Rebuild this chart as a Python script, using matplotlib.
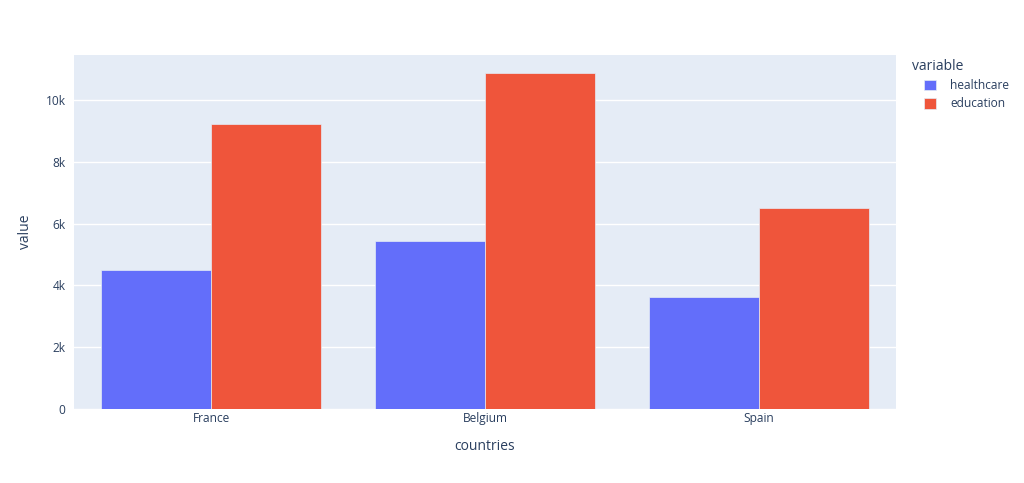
import matplotlib
matplotlib.use("Agg")
import matplotlib.pyplot as plt
import numpy as np
from matplotlib.ticker import FuncFormatter

countries = ["France", "Belgium", "Spain"]
healthcare = [4500, 5440, 3620]
education = [9220, 10870, 6500]
series_names = ["healthcare", "education"]
colors = ["#636efa", "#EF553B"]

plt.rcParams['font.family'] = ['Open Sans', 'DejaVu Sans']
txt = "#2a3f5f"

fig = plt.figure(figsize=(10.24, 4.83), dpi=100)
ax = fig.add_axes([74/1024, 1-409/483, (896-74)/1024, (409-55)/483])
ax.set_facecolor("#E5ECF6")

x = np.arange(len(countries))
w = 0.4
bars = []
for i, (vals, c, n) in enumerate(zip([healthcare, education], colors, series_names)):
    b = ax.bar(x - w/2 + i*w, vals, width=w, color=c, edgecolor="#E5ECF6", linewidth=0.5, label=n, zorder=3)
    bars.append(b)

ax.set_xlim(-0.5, 2.5)
ax.set_ylim(0, 11460)
ax.set_yticks([0, 2000, 4000, 6000, 8000, 10000])
ax.yaxis.set_major_formatter(FuncFormatter(lambda v, p: "0" if v == 0 else f"{int(v/1000)}k"))
ax.set_xticks(x)
ax.set_xticklabels(countries)
ax.grid(axis="y", color="white", linewidth=1, zorder=0)
for s in ax.spines.values():
    s.set_visible(False)
ax.tick_params(axis="both", length=0, labelsize=8.6, colors=txt)
ax.tick_params(axis="x", pad=2)
ax.tick_params(axis="y", pad=6)
ax.set_xlabel("countries", fontsize=10, color=txt, labelpad=10)
ax.set_ylabel("value", fontsize=10, color=txt, labelpad=9)

fig.text(912/1024, 1-67/483, "variable", fontsize=10, color=txt, ha="left", va="center")
leg = fig.legend(handles=bars, labels=series_names,
                 loc="upper left", bbox_to_anchor=(924/1024, 1-79/483),
                 frameon=False, fontsize=8.6,
                 handlelength=1.0, handleheight=1.0, handletextpad=1.2,
                 labelspacing=0.45, borderaxespad=0, borderpad=0)
for t in leg.get_texts():
    t.set_color(txt)

fig.savefig("out.png", dpi=100, facecolor="white")
